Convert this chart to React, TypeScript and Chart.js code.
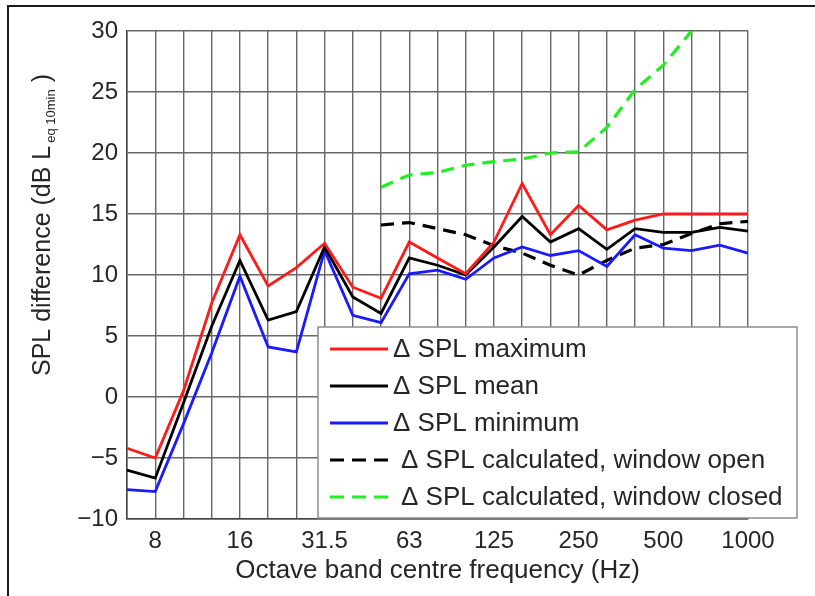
import React, { useEffect, useRef } from 'react';
import { Chart, registerables } from 'chart.js';

Chart.register(...registerables);

// Third-octave band centre frequencies (Hz)
const bandLabels = ['6.3', '8', '10', '12.5', '16', '20', '25', '31.5', '40', '50', '63', '80', '100', '125', '160', '200', '250', '315', '400', '500', '630', '800', '1000'];
// Octave bands that carry a tick label
const octaveTicks = ['8', '16', '31.5', '63', '125', '250', '500', '1000'];

const seriesNames = [
  '\u0394 SPL maximum',
  '\u0394 SPL mean',
  '\u0394 SPL minimum',
  '\u0394 SPL calculated, window open',
  '\u0394 SPL calculated, window closed',
];

const splMaximum = [-4.2, -5.0, 0.5, 7.7, 13.3, 9.1, 10.6, 12.6, 9.0, 8.1, 12.7, 11.4, 10.1, 12.7, 17.5, 13.3, 15.7, 13.7, 14.5, 15.0, 15.0, 15.0, 15.0];
const splMean = [-6.0, -6.65, -0.5, 5.8, 11.2, 6.3, 7.0, 12.3, 8.2, 6.85, 11.4, 10.8, 10.0, 12.3, 14.8, 12.7, 13.8, 12.1, 13.8, 13.5, 13.5, 13.9, 13.6];
const splMinimum = [-7.6, -7.75, -2.2, 3.6, 9.9, 4.1, 3.7, 12.0, 6.7, 6.1, 10.1, 10.4, 9.65, 11.4, 12.3, 11.6, 12.0, 10.7, 13.3, 12.2, 12.0, 12.45, 11.8];
const splCalcOpen = [null, null, null, null, null, null, null, null, null, 14.1, 14.3, 13.8, 13.3, 12.4, 11.8, 10.8, 10.0, 11.2, 12.2, 12.5, 13.4, 14.2, 14.4];
const splCalcClosed = [null, null, null, null, null, null, null, null, null, 17.2, 18.2, 18.4, 19.0, 19.3, 19.5, 20.0, 20.1, 22.1, 25.2, 27.2, 30.0, null, null];

const yMin = -10;
const yMax = 30;
const yStep = 5;

const FONT = "'Liberation Sans', Arial, Helvetica, sans-serif";
const TEXT = '#262626';
const GRID = '#686868';

const boxLegend = {
  id: 'boxLegend',
  afterDraw(chart: any) {
    const ctx = chart.ctx as CanvasRenderingContext2D;
    const bx = 318, by = 327, bw = 479, bh = 191;
    ctx.save();
    ctx.fillStyle = '#ffffff';
    ctx.fillRect(bx, by, bw, bh);
    ctx.strokeStyle = '#8c8c8c';
    ctx.lineWidth = 1.5;
    ctx.strokeRect(bx, by, bw, bh);
    chart.data.datasets.forEach((ds: any, i: number) => {
      const cy = by + 22 + i * 37;
      ctx.strokeStyle = ds.borderColor;
      ctx.lineWidth = 3;
      ctx.setLineDash(ds.borderDash ? [14, 8] : []);
      ctx.beginPath();
      ctx.moveTo(330, cy);
      ctx.lineTo(388, cy);
      ctx.stroke();
      ctx.setLineDash([]);
      ctx.fillStyle = TEXT;
      ctx.font = `26px ${FONT}`;
      ctx.textBaseline = 'middle';
      ctx.textAlign = 'left';
      ctx.fillText(ds.label, ds.borderDash ? 401 : 393, cy + 1);
    });
    ctx.restore();
  },
};

const yTitle = {
  id: 'yTitle',
  afterDraw(chart: any) {
    const ctx = chart.ctx as CanvasRenderingContext2D;
    const main = 'SPL difference (dB L';
    const sub = 'eq 10min';
    const tail = ' )';
    ctx.save();
    ctx.fillStyle = TEXT;
    ctx.textBaseline = 'alphabetic';
    ctx.textAlign = 'left';
    ctx.font = `25px ${FONT}`;
    const w1 = ctx.measureText(main).width;
    const w3 = ctx.measureText(tail).width;
    ctx.font = `13px ${FONT}`;
    const w2 = ctx.measureText(sub).width;
    const total = w1 + 3 + w2 + w3;
    const cx = 50;
    const cy = (chart.chartArea.top + chart.chartArea.bottom) / 2 - 50;
    ctx.translate(cx, cy);
    ctx.rotate(-Math.PI / 2);
    let x = -total / 2;
    ctx.font = `25px ${FONT}`;
    ctx.fillText(main, x, 0);
    x += w1 + 3;
    ctx.font = `13px ${FONT}`;
    ctx.fillText(sub, x, 5);
    x += w2;
    ctx.font = `25px ${FONT}`;
    ctx.fillText(tail, x, 0);
    ctx.restore();
  },
};

export default function App() {
  const ref = useRef<HTMLCanvasElement | null>(null);

  useEffect(() => {
    if (!ref.current) return;
    const line = (label: string, data: (number | null)[], color: string, dashed: boolean) => ({
      label,
      data,
      borderColor: color,
      backgroundColor: color,
      borderWidth: dashed ? 3.2 : 2.8,
      borderDash: dashed ? [13, 8] : undefined,
      pointRadius: 0,
      tension: 0,
      spanGaps: false,
      fill: false,
    });
    const chart = new Chart(ref.current, {
      type: 'line',
      data: {
        labels: bandLabels,
        datasets: [
          line(seriesNames[0], splMaximum, '#ff1a1a', false),
          line(seriesNames[1], splMean, '#000000', false),
          line(seriesNames[2], splMinimum, '#1a1aff', false),
          line(seriesNames[3], splCalcOpen, '#000000', true),
          line(seriesNames[4], splCalcClosed, '#22ee22', true),
        ],
      },
      options: {
        animation: false,
        responsive: false,
        devicePixelRatio: 1,
        layout: { padding: { left: 0, top: 31, right: 67, bottom: 0 } },
        plugins: {
          legend: { display: false },
          tooltip: { enabled: false },
          title: { display: false },
        },
        scales: {
          x: {
            type: 'category',
            offset: false,
            grid: { color: GRID, lineWidth: 1.4, drawTicks: false },
            border: { display: true, color: '#444', width: 1.5 },
            ticks: {
              autoSkip: false,
              maxRotation: 0,
              padding: 8,
              color: TEXT,
              font: { family: FONT, size: 24 },
              callback: function (this: any, value: any) {
                const lab = this.getLabelForValue(value);
                return octaveTicks.includes(lab) ? lab : '';
              },
            },
            title: {
              display: true,
              text: 'Octave band centre frequency (Hz)',
              color: TEXT,
              font: { family: FONT, size: 26 },
              padding: { top: 0, bottom: 10 },
            },
            afterFit: (scale: any) => {
              scale.height = 77;
            },
          },
          y: {
            min: yMin,
            max: yMax,
            grid: { color: GRID, lineWidth: 1.4, drawTicks: false },
            border: { display: true, color: '#444', width: 1.5 },
            ticks: {
              stepSize: yStep,
              padding: 9,
              color: TEXT,
              font: { family: FONT, size: 24 },
              callback: (v: any) => (Number(v) < 0 ? '\u2212' + Math.abs(Number(v)) : String(v)),
            },
            afterFit: (scale: any) => {
              scale.width = 127;
            },
          },
        },
      },
      plugins: [boxLegend, yTitle],
    });
    return () => chart.destroy();
  }, []);

  return (
    <div style={{ position: 'absolute', left: 0, top: 0, width: 815, height: 596, background: '#fff', overflow: 'hidden' }}>
      <canvas ref={ref} width={815} height={596} style={{ display: 'block', width: 815, height: 596 }} />
      <div
        style={{
          position: 'absolute',
          left: 7,
          top: 5,
          width: 820,
          height: 600,
          borderLeft: '2px solid #1a1a1a',
          borderTop: '2px solid #1a1a1a',
          pointerEvents: 'none',
        }}
      />
    </div>
  );
}
